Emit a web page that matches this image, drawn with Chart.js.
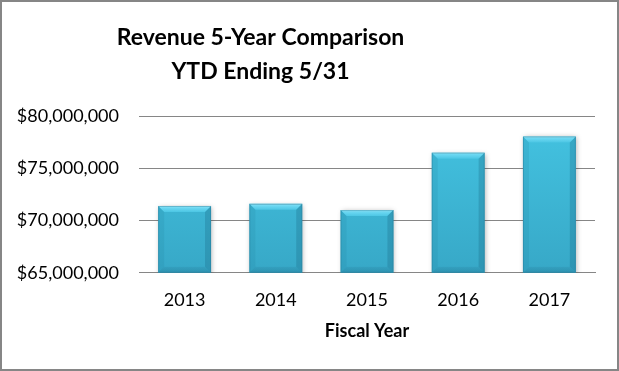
<!DOCTYPE html>
<html>
<head>
<meta charset="utf-8">
<script src="https://cdn.jsdelivr.net/npm/chart.js@4"></script>
<style>
  html, body { margin: 0; padding: 0; background: #fff; }
  .box { width: 619px; height: 371px; box-sizing: border-box; border: 2px solid #868686; background: #fff; }
  .box canvas { display: block; }
</style>
</head>
<body>
<div class="box"><canvas id="rev" width="615" height="367"></canvas></div>
<script>
// data
const years = ["2013", "2014", "2015", "2016", "2017"];
const revenue = [71400000, 71600000, 71000000, 76500000, 78050000];
const titleLines = ["Revenue 5-Year Comparison", "YTD Ending 5/31"];
const yMin = 65000000, yMax = 80000000, yStep = 5000000;

const FONT = "Lato, 'Open Sans', sans-serif";

// the title sits left of centre in the original
const titleShift = {
  id: "titleShift",
  afterLayout(chart) {
    const t = chart.titleBlock;
    if (t) { t.left -= 38; t.right -= 38; }
  }
};

// bar body gradient, plus bevel facets drawn on top of each bar
const bevel = {
  id: "bevel",
  beforeDatasetsDraw(chart) {
    const ctx = chart.ctx;
    ctx.save();
    ctx.shadowColor = "rgba(0,0,0,0.3)";
    ctx.shadowBlur = 5;
    ctx.shadowOffsetX = 1;
    ctx.shadowOffsetY = 1;
  },
  afterDatasetsDraw(chart) {
    const ctx = chart.ctx;
    ctx.restore();
    const meta = chart.getDatasetMeta(0);
    const b = 6;
    meta.data.forEach(bar => {
      const L = bar.x - bar.width / 2, R = bar.x + bar.width / 2;
      const T = bar.y, B = Math.min(bar.base, chart.chartArea.bottom);
      const poly = (pts, fill) => {
        ctx.beginPath();
        ctx.moveTo(pts[0][0], pts[0][1]);
        for (let i = 1; i < pts.length; i++) ctx.lineTo(pts[i][0], pts[i][1]);
        ctx.closePath();
        ctx.fillStyle = fill;
        ctx.fill();
      };
      let g = ctx.createLinearGradient(0, T, 0, T + b);
      g.addColorStop(0, "#a8ecfa");
      g.addColorStop(0.3, "#6dd8f2");
      g.addColorStop(1, "#4cc6e4");
      poly([[L, T], [R, T], [R - b, T + b], [L + b, T + b]], g);
      poly([[L, T], [L + b, T + b], [L + b, B - b], [L, B]], "rgba(30,120,150,0.15)");
      poly([[R, T], [R - b, T + b], [R - b, B - b], [R, B]], "rgba(20,90,120,0.25)");
      g = ctx.createLinearGradient(0, B - b, 0, B);
      g.addColorStop(0, "rgba(30,110,140,0.15)");
      g.addColorStop(1, "rgba(30,110,140,0.4)");
      poly([[L, B], [R, B], [R - b, B - b], [L + b, B - b]], g);
      ctx.strokeStyle = "rgba(40,130,160,0.5)";
      ctx.lineWidth = 1;
      ctx.strokeRect(L + 0.5, T + 0.5, R - L - 1, B - T - 1);
    });
  }
};

new Chart(document.getElementById("rev"), {
  type: "bar",
  data: {
    labels: years,
    datasets: [{
      data: revenue,
      backgroundColor: ctx => {
        const area = ctx.chart.chartArea;
        if (!area) return "#3cb8d8";
        const g = ctx.chart.ctx.createLinearGradient(0, area.top, 0, area.bottom);
        g.addColorStop(0, "#44c4e2");
        g.addColorStop(1, "#37a8c7");
        return g;
      },
      borderWidth: 0,
      barPercentage: 0.58,
      categoryPercentage: 1
    }]
  },
  options: {
    responsive: false,
    animation: false,
    layout: { padding: { left: 0, right: 22, top: 0, bottom: 27 } },
    plugins: {
      legend: { display: false },
      tooltip: { enabled: false },
      title: {
        display: true,
        text: titleLines,
        color: "#000",
        font: { family: FONT, size: 23, weight: "bold", lineHeight: 1.48 },
        padding: { top: 19, bottom: 27 }
      }
    },
    scales: {
      x: {
        grid: { display: false, drawTicks: false },
        border: { display: true, color: "#868686", width: 1 },
        ticks: { color: "#000", padding: 17, font: { family: FONT, size: 18 } },
        title: {
          display: true,
          text: "Fiscal Year",
          color: "#000",
          font: { family: FONT, size: 18, weight: "bold" },
          padding: { top: -8, bottom: 0 }
        }
      },
      y: {
        min: yMin,
        max: yMax,
        afterFit: s => { s.width = 137; },
        grid: { color: "#868686", lineWidth: 1, drawTicks: false },
        border: { display: false },
        ticks: {
          stepSize: yStep,
          color: "#000",
          padding: 20,
          font: { family: FONT, size: 18 },
          callback: v => "$" + v.toLocaleString("en-US")
        }
      }
    }
  },
  plugins: [titleShift, bevel]
});
</script>
</body>
</html>
